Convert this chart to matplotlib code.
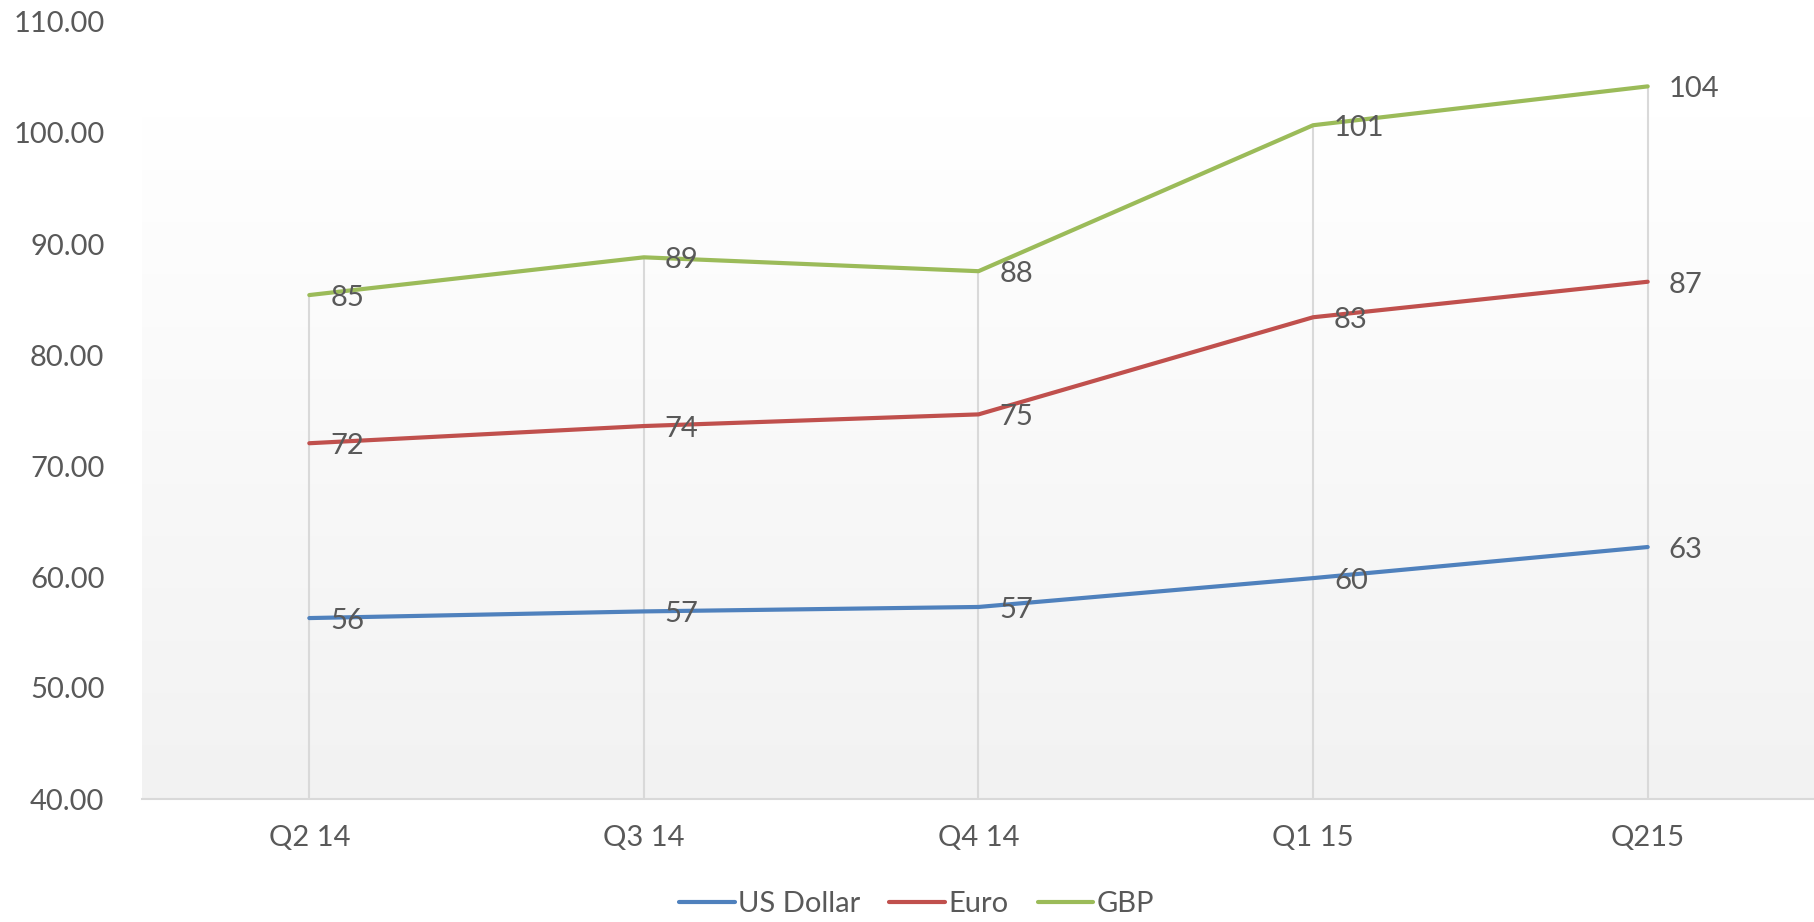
import numpy as np
import matplotlib
matplotlib.use("Agg")
import matplotlib.pyplot as plt
from matplotlib.colors import LinearSegmentedColormap

categories = ["Q2 14", "Q3 14", "Q4 14", "Q1 15", "Q215"]
usd = [56.3, 56.9, 57.3, 59.9, 62.7]
euro = [72.05, 73.6, 74.65, 83.4, 86.6]
gbp = [85.4, 88.8, 87.55, 100.7, 104.2]
series_names = ["US Dollar", "Euro", "GBP"]
yticks = [40, 50, 60, 70, 80, 90, 100, 110]

colors = ["#4F81BD", "#C0504D", "#9BBB59"]
txt = "#595959"
plt.rcParams['font.family'] = ['Lato', 'DejaVu Sans']

fig = plt.figure(figsize=(18.15, 9.22), dpi=100)
ax = fig.add_axes([142/1815, 1-799/922, 1-142/1815, (799-22)/922])
x = np.arange(len(categories))
ax.set_xlim(-0.5, len(categories) - 0.5)
ax.set_ylim(40, 110)

# gradient background
cmap = LinearSegmentedColormap.from_list("g", ["#f2f2f2", "#ffffff"])
grad = np.linspace(0, 1, 256).reshape(-1, 1)
ax.imshow(grad, cmap=cmap, origin="lower", aspect="auto",
          extent=[-0.5, len(categories) - 0.5, 40, 101.5], zorder=0)

# drop lines
tops = np.max([usd, euro, gbp], axis=0)
ax.vlines(x, 40, tops, color="#d9d9d9", lw=1.5, zorder=1)

for vals, name, c in zip([usd, euro, gbp], series_names, colors):
    ax.plot(x, vals, color=c, lw=3, label=name, zorder=3, solid_capstyle="round")
    for xi, v in zip(x, vals):
        ax.annotate(f"{round(v)}", (xi, v), xytext=(15, -2), textcoords="offset points",
                    ha="left", va="center", fontsize=21, color=txt, zorder=4)

ax.set_xticks(x)
ax.set_xticklabels(categories)
ax.set_yticks(yticks)
ax.set_yticklabels([f"{t:.2f}" for t in yticks])
ax.tick_params(axis="both", length=0, labelsize=21, labelcolor=txt)
ax.tick_params(axis="y", pad=27)
ax.tick_params(axis="x", pad=19)
for s in ["top", "right", "left"]:
    ax.spines[s].set_visible(False)
ax.spines["bottom"].set_color("#d9d9d9")
ax.spines["bottom"].set_linewidth(1.5)
ax.spines["bottom"].set_zorder(2)

leg = fig.legend(loc="center", bbox_to_anchor=(0.505, 0.019), ncol=3, frameon=False,
                 fontsize=21, handlelength=1.9, handletextpad=0.12, columnspacing=1.0,
                 labelcolor=txt)

fig.savefig("out.png", dpi=100, facecolor="white")
